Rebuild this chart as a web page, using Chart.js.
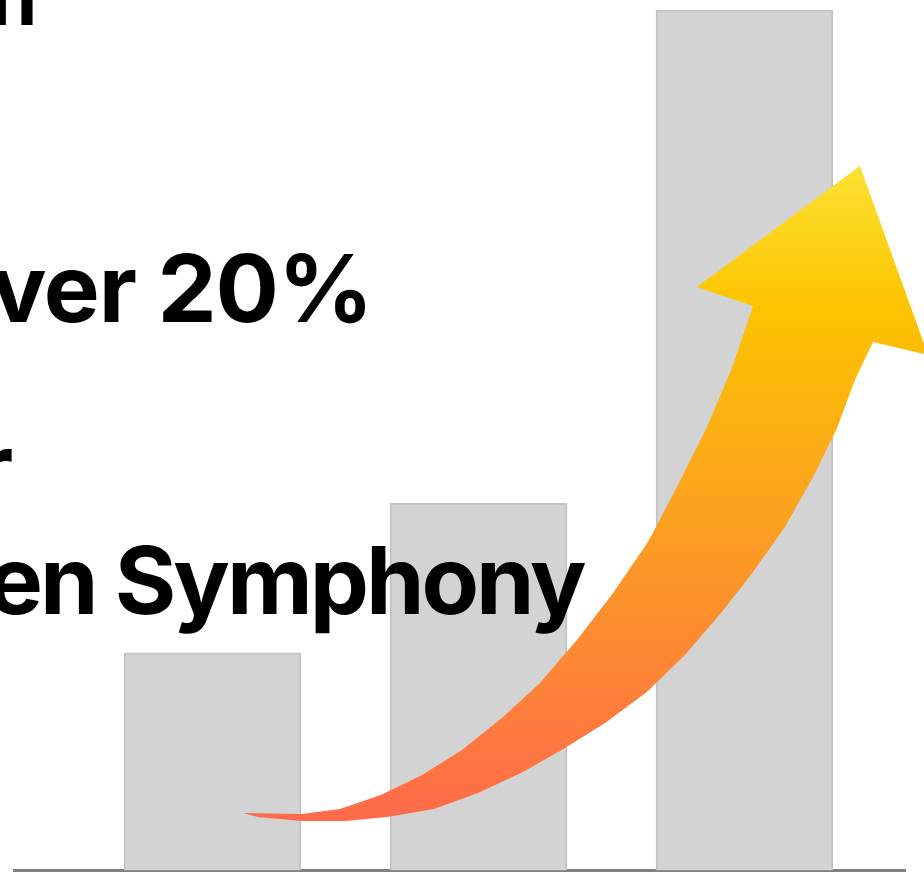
<!DOCTYPE html>
<html lang="en">
<head>
<meta charset="UTF-8" />
<title>Growth over 20%</title>
<script src="https://cdn.jsdelivr.net/npm/chart.js"></script>
<style>
  html, body { margin: 0; padding: 0; background: #fff; overflow: hidden; }
  canvas { display: block; }
</style>
</head>
<body>
<canvas id="myChart" width="924" height="872"></canvas>
<script>
// bar data
const periods = ['Before', 'Middle', 'After'];
const values = [25.3, 42.7, 100];

// headline fragments (the slide text is cut off on the left)
const headlines = ['n', 'ver 20%', 'r', 'en Symphony'];

// arrow outline in chart units (x = bar index, y = value), tail -> head -> back
const arrowX = [1.115, 1.336, 1.479, 1.633, 1.788, 1.938, 2.088, 2.231, 2.370, 2.506, 2.637, 2.750, 2.859, 2.953, 3.032,
  2.821, 3.434, 3.690,
  3.483, 3.415, 3.348, 3.258, 3.152, 3.032, 2.915, 2.776, 2.633, 2.476, 2.325, 2.167, 1.998, 1.833, 1.656, 1.502, 1.336, 1.171];
const arrowY = [6.68, 6.57, 7.15, 8.77, 11.10, 14.00, 17.72, 21.79, 26.79, 32.25, 38.18, 44.80, 51.54, 58.40, 65.60,
  67.81, 81.87, 59.91,
  61.42, 57.00, 51.42, 45.73, 39.92, 34.69, 30.04, 25.04, 20.74, 17.14, 14.24, 11.45, 9.01, 7.15, 6.22, 5.75, 5.75, 6.22];

// draws the big black headline text on top of the bars
const slideText = {
  id: 'slideText',
  afterDatasetsDraw(chart) {
    const ctx = chart.ctx;
    ctx.save();
    ctx.fillStyle = '#000';
    ctx.textAlign = 'left';
    ctx.textBaseline = 'alphabetic';
    // [text, font size, letter spacing, ink right edge, baseline]
    const rows = [
      [headlines[0], 76, 0, 33, 25],
      [headlines[1], 94, -1, 365, 322],
      [headlines[2], 94, 0, 12, 501],
      [headlines[3], 94, -3, 586, 614],
    ];
    rows.forEach(([t, size, spacing, right, base]) => {
      ctx.font = '700 ' + size + 'px Inter';
      ctx.letterSpacing = spacing + 'px';
      const m = ctx.measureText(t);
      ctx.fillText(t, right - m.actualBoundingBoxRight, base);
    });
    ctx.restore();
  }
};

// curved gradient arrow
const growthArrow = {
  id: 'growthArrow',
  afterDatasetsDraw(chart) {
    const { ctx, scales } = chart;
    const px = arrowX.map(v => scales.x.getPixelForValue(v));
    const py = arrowY.map(v => scales.y.getPixelForValue(v));
    const top = Math.min(...py);
    const bottom = Math.max(...py);
    const grad = ctx.createLinearGradient(0, bottom, 0, top);
    grad.addColorStop(0, '#ff6a4b');
    grad.addColorStop(0.2, '#fe8138');
    grad.addColorStop(0.45, '#fc9f22');
    grad.addColorStop(0.78, '#fdc300');
    grad.addColorStop(1, '#fbe232');
    ctx.save();
    ctx.beginPath();
    px.forEach((x, i) => (i === 0 ? ctx.moveTo(x, py[i]) : ctx.lineTo(x, py[i])));
    ctx.closePath();
    ctx.fillStyle = grad;
    ctx.fill();
    ctx.restore();
  }
};

const ctx = document.getElementById('myChart').getContext('2d');
const myChart = new Chart(ctx, {
  type: 'bar',
  data: {
    labels: periods,
    datasets: [{
      data: values.map((v, i) => ({ x: i + 1, y: v })),
      backgroundColor: '#d3d3d3',
      borderColor: '#c3c3c3',
      borderWidth: 2,
      barThickness: 177,
    }]
  },
  options: {
    responsive: false,
    animation: false,
    layout: { padding: { left: 15, right: 19, top: 10, bottom: 1.5 } },
    plugins: {
      legend: { display: false },
      tooltip: { enabled: false }
    },
    scales: {
      x: {
        type: 'linear',
        min: 0.2575,
        max: 3.6034,
        offset: false,
        z: 1,
        grid: { display: false, drawTicks: false },
        ticks: { display: false },
        border: { display: true, color: '#808080', width: 4 }
      },
      y: { display: false, min: 0, max: 100 }
    }
  },
  plugins: [slideText, growthArrow]
});
</script>
</body>
</html>
